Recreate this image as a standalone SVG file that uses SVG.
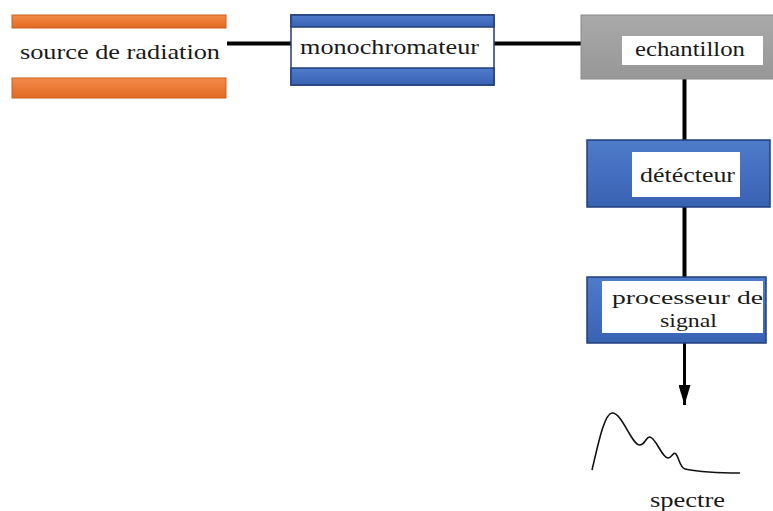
<svg xmlns="http://www.w3.org/2000/svg" width="773" height="511" viewBox="0 0 773 511">
  <defs>
    <linearGradient id="orange" x1="0" y1="0" x2="0" y2="1">
      <stop offset="0" stop-color="#F28A4A"/>
      <stop offset="1" stop-color="#E26A22"/>
    </linearGradient>
    <linearGradient id="blue" x1="0" y1="0" x2="0" y2="1">
      <stop offset="0" stop-color="#4F7BCB"/>
      <stop offset="1" stop-color="#3A62B4"/>
    </linearGradient>
    <linearGradient id="grey" x1="0" y1="0" x2="0" y2="1">
      <stop offset="0" stop-color="#A9A9A9"/>
      <stop offset="1" stop-color="#979797"/>
    </linearGradient>
    <marker id="arrow" viewBox="0 0 20 12" refX="20" refY="6" markerWidth="20" markerHeight="12" markerUnits="userSpaceOnUse" orient="auto">
      <path d="M0,0 L20,6 L0,12 Z" fill="#000"/>
    </marker>
  </defs>
  <style>
    text { font-family: 'Liberation Serif', 'Times New Roman', 'DejaVu Serif', serif; font-size: 22px; fill: #1a1a1a; }
    .small { font-size: 19px; }
    .bar-o { fill: url(#orange); stroke: #C9601F; stroke-width: 1; }
    .bar-b { fill: url(#blue); stroke: #203F7A; stroke-width: 1.5; }
    .panel { fill: #fff; }
    .wire { stroke: #000; stroke-width: 4; fill: none; }
  </style>

  <rect width="773" height="511" fill="#fff"/>

  <!-- connectors -->
  <g id="connectors">
    <line class="wire" x1="227" y1="43.5" x2="291" y2="43.5"/>
    <line class="wire" x1="494" y1="43.5" x2="582" y2="43.5"/>
    <line class="wire" x1="684.5" y1="79" x2="684.5" y2="140"/>
    <line class="wire" x1="684.5" y1="207" x2="684.5" y2="278"/>
    <line stroke="#000" stroke-width="3" x1="684.5" y1="343" x2="684.5" y2="405" marker-end="url(#arrow)"/>
  </g>

  <!-- radiation source -->
  <g id="source">
    <rect class="bar-o" x="12" y="15" width="214" height="13"/>
    <rect class="bar-o" x="12" y="78" width="214" height="20"/>
    <text x="20" y="59" textLength="200" lengthAdjust="spacingAndGlyphs">source de radiation</text>
  </g>

  <!-- monochromator -->
  <g id="monochromateur">
    <rect x="291" y="15" width="203" height="70" fill="#fff" stroke="#203F7A" stroke-width="1.5"/>
    <rect class="bar-b" x="291" y="15" width="203" height="12"/>
    <rect class="bar-b" x="291" y="68" width="203" height="17"/>
    <text x="300" y="54" textLength="179" lengthAdjust="spacingAndGlyphs">monochromateur</text>
  </g>

  <!-- sample -->
  <g id="echantillon">
    <rect x="581" y="15" width="195" height="64" fill="url(#grey)" stroke="#8A8A8A" stroke-width="1"/>
    <rect class="panel" x="622" y="36" width="141" height="29"/>
    <text x="635" y="56" textLength="110" lengthAdjust="spacingAndGlyphs">echantillon</text>
  </g>

  <!-- detector -->
  <g id="detecteur">
    <rect class="bar-b" x="587" y="140" width="183" height="67"/>
    <rect class="panel" x="632" y="152" width="108" height="45"/>
    <text x="640" y="182" textLength="95" lengthAdjust="spacingAndGlyphs">détécteur</text>
  </g>

  <!-- signal processor -->
  <g id="processeur">
    <rect class="bar-b" x="587" y="277" width="179" height="66"/>
    <rect class="panel" x="602" y="281" width="161" height="52"/>
    <text class="small" x="612" y="304" textLength="151" lengthAdjust="spacingAndGlyphs">processeur de</text>
    <text class="small" x="660" y="327" textLength="57" lengthAdjust="spacingAndGlyphs">signal</text>
  </g>

  <!-- resulting spectrum -->
  <g id="spectre">
    <path d="M592,470 C598,445 604,414 612,413 C622,412 632,446 640,445 C646,444 646,436 650,437 C656,438 662,458 668,458 C672,458 673,451 676,454 C679,458 680,468 685,469 C700,472 720,473 740,473" fill="none" stroke="#111" stroke-width="1.6"/>
    <text x="650" y="507" textLength="75" lengthAdjust="spacingAndGlyphs">spectre</text>
  </g>
</svg>
